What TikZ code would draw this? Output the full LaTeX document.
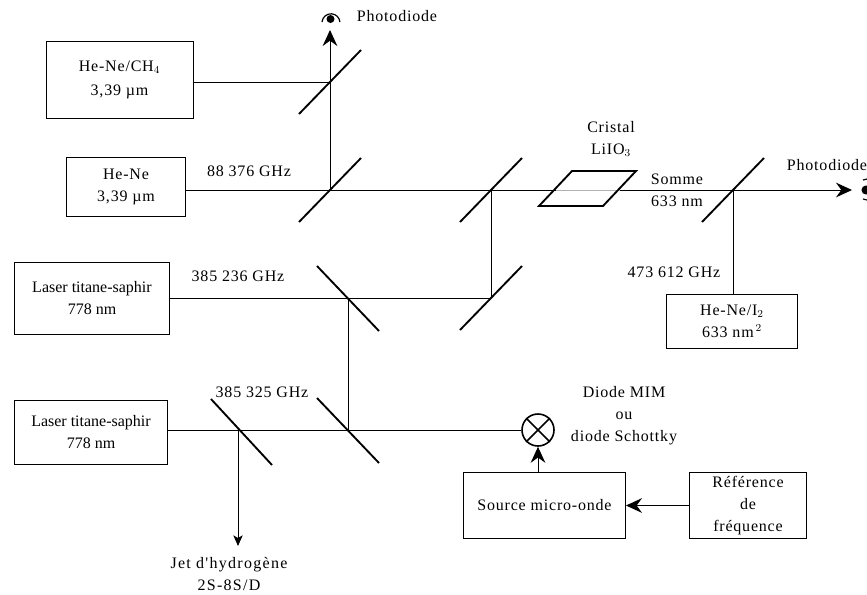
\documentclass[tikz,border=0pt]{standalone}
\usepackage{fontspec}
\setmainfont{Liberation Serif}
\newfontfamily\widefont[LetterSpace=5]{Liberation Serif}
\newfontfamily\widerfont[LetterSpace=8]{Liberation Serif}
\newfontfamily\plainfont{Liberation Serif}
\usetikzlibrary{arrows.meta}
\tikzset{
  labelbox/.style={draw, line width=0.7pt, align=center, inner sep=0pt, font=\fontsize{12}{16.5}\widefont},
  labeltext/.style={align=center, inner sep=0pt, font=\fontsize{12}{16.5}\widefont},
  beam/.style={line width=0.75pt},
  bigarrow/.style={beam, -{Stealth[length=12pt,width=11pt,inset=4pt]}},
  smallarrow/.style={beam, -{Stealth[length=8pt,width=7pt,inset=2pt]}},
  mirror/.style={line width=1.4pt}
}
\begin{document}
\begin{tikzpicture}[x=0.75pt, y=-0.75pt]
  \useasboundingbox (0,0) rectangle (867,594);
  \colorlet{crystalcolor}{gray!60}

  % Sources
  \node[labelbox, minimum width=110.25pt, minimum height=57.75pt] (hech) at (119.5,79.5) {He-Ne/CH$_4$\\[1.5pt]3,39 µm};
  \node[labelbox, minimum width=89.25pt, minimum height=44.25pt] (hene) at (126,186.5) {He-Ne\\3,39 µm};
  \node[labelbox, minimum width=116.25pt, minimum height=54pt, font=\fontsize{12}{16.5}\plainfont] (lasera) at (92,298) {Laser titane-saphir\\778 nm};
  \node[labelbox, minimum width=114.75pt, minimum height=48pt, font=\fontsize{12}{16.5}\plainfont] (laserb) at (91,432) {Laser titane-saphir\\778 nm};
  \node[labelbox, minimum width=98.25pt, minimum height=40.5pt] (hei) at (732,321) {He-Ne/I$_2$\\633 nm$^{\,2}$};
  \node[labelbox, minimum width=121.5pt, minimum height=49pt] (source) at (544.5,505.5) {Source micro-onde};
  \node[labelbox, minimum width=87.75pt, minimum height=49.5pt] (ref) at (748,505.5) {Référence\\de\\fréquence};

  % Mirrors
  \foreach \name/\x/\y in {ma/330/82, mb/330/190, mc/491/190, md/491/298, mh/733/190} {
    \coordinate (\name) at (\x,\y);
    \draw[mirror] (\x-31,\y+32) -- (\x+31,\y-32);
  }
  \foreach \name/\x/\y in {me/348/298, mf/348/430} {
    \coordinate (\name) at (\x,\y);
    \draw[mirror] (\x-31,\y-32) -- (\x+31,\y+33);
  }
  \coordinate (mg) at (238,430);
  \draw[mirror] (211,399) -- (272,465);

  % Crystal
  \coordinate (cra) at (539,206);
  \coordinate (crb) at (572,171);
  \coordinate (crc) at (636,171);
  \coordinate (crd) at (603,206);
  \coordinate (crin) at (556,190);
  \coordinate (crout) at (620,190);

  % Free ends
  \coordinate (pda) at (330,30);
  \coordinate (pdb) at (852,190);
  \coordinate (jet) at (238,546);

  % Mixer
  \node[draw, circle, line width=1.2pt, minimum size=24pt, inner sep=0pt] (mixer) at (538,430) {};
  \draw[line width=1.2pt] (mixer.north west) -- (mixer.south east);
  \draw[line width=1.2pt] (mixer.north east) -- (mixer.south west);

  % Beams
  \draw[beam] (hech.east |- ma) -- (ma);
  \draw[bigarrow] (mb) -- (pda);
  \draw[beam] (hene.east |- mb) -- (crin);
  \draw[beam, crystalcolor] (crin) -- (crout);
  \draw[bigarrow] (crout) -- (pdb);
  \draw[beam] (mc) -- (md);
  \draw[beam] (lasera.east |- md) -- (md);
  \draw[beam] (me) -- (mf);
  \draw[beam] (laserb.east |- mf) -- (mixer.west);
  \draw[smallarrow] (mg) -- (jet);
  \draw[beam] (mh) -- (hei.north -| mh);
  \draw[bigarrow] (source.north -| mixer) -- (mixer.south);
  \draw[bigarrow] (ref.west) -- (source.east);

  \draw[mirror, line join=miter] (cra) -- (crb) -- (crc) -- (crd) -- cycle;

  % Photodiodes
  \fill (330.5,19) circle (3pt);
  \draw[line width=0.9pt] (322,22) arc (185:355:9);
  \fill (866,190) circle (3.4pt);
  \draw[line width=0.9pt] (863,180) -- (867,179);
  \draw[line width=0.9pt] (863,199) -- (867,200);

  % Labels
  \node[labeltext] (ltpda) at (397,16) {Photodiode};
  \node[labeltext] (ltpdb) at (827,165) {Photodiode};
  \node[labeltext] (ltfa) at (249,171) {88 376 GHz};
  \node[labeltext] (ltfb) at (238,276) {385 236 GHz};
  \node[labeltext] (ltfc) at (262,392) {385 325 GHz};
  \node[labeltext] (ltfd) at (674,272) {473 612 GHz};
  \node[labeltext] (ltcr) at (611,139) {Cristal\\LiIO$_3$};
  \node[labeltext] (ltso) at (677,190) {Somme\\633 nm};
  \node[labeltext] (ltmim) at (624,416) {Diode MIM\\ou\\diode Schottky};
  \node[labeltext, font=\fontsize{12}{16.5}\widerfont] (ltjet) at (229,574) {Jet d'hydrogène\\2S-8S/D};
\end{tikzpicture}
\end{document}
